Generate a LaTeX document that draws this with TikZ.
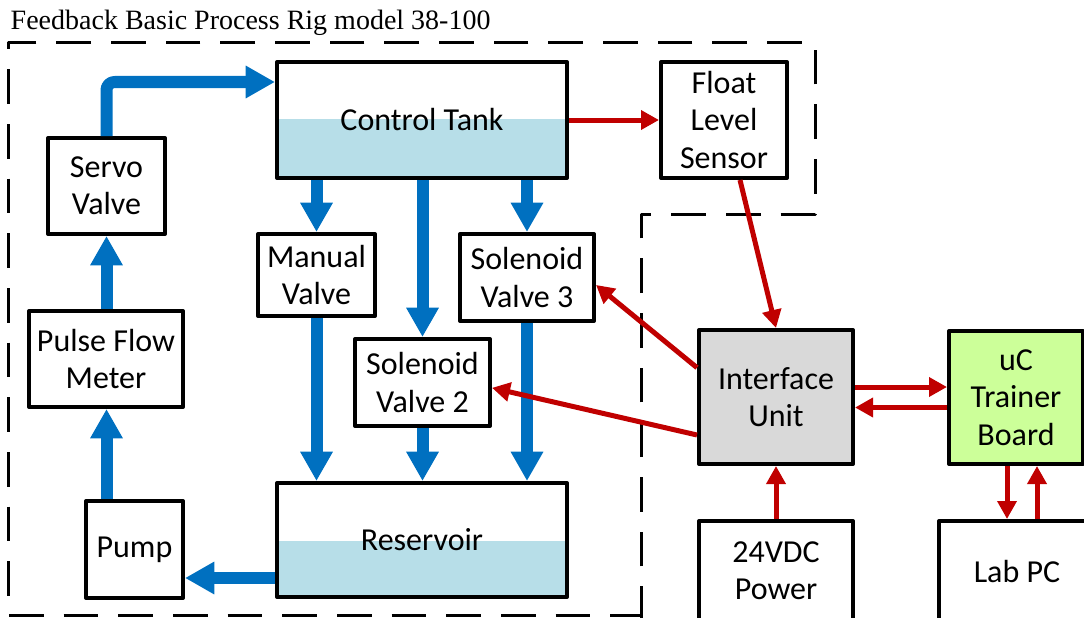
\documentclass[tikz,border=0pt]{standalone}
\usepackage{fontspec}
\setmainfont{Carlito}
\newfontfamily\titlefont{Liberation Serif}
\usetikzlibrary{arrows.meta}
\definecolor{flowblue}{HTML}{0070C0}
\definecolor{sigred}{HTML}{C00000}
\definecolor{water}{HTML}{B7DEE8}
\definecolor{unitgrey}{HTML}{D9D9D9}
\definecolor{boardgreen}{HTML}{CCFF99}
\tikzset{
	box/.style={draw, line width=3pt, align=center, inner sep=0pt, font=\fontsize{24}{28}\selectfont},
	flow/.style={draw=flowblue, line width=9pt, -{Triangle[width=23pt,length=22pt]}},
	sig/.style={draw=sigred, line width=3.75pt, -{Triangle[width=14pt,length=13.5pt]}},
	boundary/.style={line width=2.25pt, dash pattern=on 26pt off 15pt}
}
\begin{document}
\begin{tikzpicture}[x=0.75pt, y=-0.75pt, line join=round]
		\useasboundingbox (0,0) rectangle (1084,617);
		% rig boundary
		\draw[boundary] (641,621) -- (641,214) -- (815,214) -- (815,43) -- (8,43) -- (8,615) -- (641,615);
		\node[anchor=base west, font=\titlefont\fontsize{21}{24}\selectfont] (title) at (6,30) {Feedback Basic Process Rig model 38-100};
		% water levels
		\fill[water] (277,119) rectangle (567,178);
		\fill[water] (277,541) rectangle (567,597);
		% boxes
		\node[box, minimum width=217.5pt, minimum height=87pt] (tank) at (422,120) {Control Tank};
		\node[box, minimum width=94.5pt, minimum height=87pt] (float) at (724,120) {Float\\Level\\Sensor};
		\node[box, minimum width=87.75pt, minimum height=72pt] (servo) at (106.5,186) {Servo\\Valve};
		\node[box, minimum width=115.5pt, minimum height=72pt] (pulse) at (106,359) {Pulse Flow\\Meter};
		\node[box, minimum width=72.75pt, minimum height=72.75pt] (pump) at (134.5,549.5) {Pump};
		\node[box, minimum width=87.75pt, minimum height=61.5pt] (man) at (316.5,275) {Manual\\Valve};
		\node[box, minimum width=100.5pt, minimum height=65.25pt] (sol3) at (527,277.5) {Solenoid\\Valve 3};
		\node[box, minimum width=101.25pt, minimum height=65.25pt] (sol2) at (422.5,382.5) {Solenoid\\Valve 2};
		\node[box, minimum width=217.5pt, minimum height=85.5pt] (res) at (422,540) {Reservoir};
		\node[box, fill=unitgrey, minimum width=115.5pt, minimum height=100.5pt] (iface) at (776,397) {Interface\\Unit};
		\node[box, fill=boardgreen, minimum width=100.5pt, minimum height=99.75pt] (uc) at (1016,397.5) {uC\\Trainer\\Board};
		\node[box, minimum width=115.5pt, minimum height=75pt] (power) at (776,571) {24VDC\\Power};
		\node[box, minimum width=117pt, minimum height=75pt] (lab) at (1017,571) {Lab PC};
		% water flow
		\draw[flow, rounded corners=6pt] (servo.north) |- ([yshift=28.5pt]tank.west);
		\draw[flow] (man.north |- tank.south) -- (man.north);
		\draw[flow] (sol2.north |- tank.south) -- (sol2.north);
		\draw[flow] (sol3.north |- tank.south) -- (sol3.north);
		\draw[flow] (man.south) -- (man.south |- res.north);
		\draw[flow] (sol2.south) -- (sol2.south |- res.north);
		\draw[flow] (sol3.south) -- (sol3.south |- res.north);
		\draw[flow] ([yshift=-28.5pt]res.west) -- ([yshift=-28.5pt]res.west -| pump.east);
		\draw[flow] (servo.south |- pump.north) -- (servo.south |- pulse.south);
		\draw[flow] (servo.south |- pulse.north) -- (servo.south);
		% signals
		\draw[sig] (tank.east) -- (float.west);
		\draw[sig] ([xshift=12pt]float.south) -- (iface.north);
		\draw[sig] ([yshift=22pt]iface.west) -- ([yshift=-5.6pt]sol3.east);
		\draw[sig] ([yshift=-28.5pt]iface.west) -- ([yshift=-4pt]sol2.east);
		\draw[sig] ([yshift=7.5pt]iface.east) -- ([yshift=7.5pt]iface.east -| uc.west);
		\draw[sig] ([yshift=-7.5pt]uc.west) -- ([yshift=-7.5pt]uc.west -| iface.east);
		\draw[sig] ([xshift=-6.75pt]uc.south) -- ([xshift=-6.75pt]uc.south |- lab.north);
		\draw[sig] ([xshift=15pt]lab.north |- lab.north) -- ([xshift=15pt]lab.north |- uc.south);
		\draw[sig] (power.north) -- (iface.south);
	\end{tikzpicture}
\end{document}
